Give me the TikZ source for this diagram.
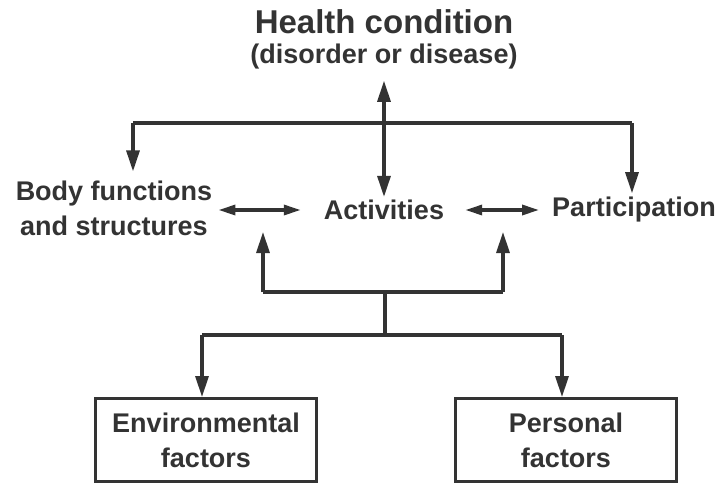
\documentclass[tikz,border=0pt]{standalone}
\usepackage{fontspec}
\setmainfont{Liberation Sans}
\usetikzlibrary{arrows.meta}
\definecolor{ink}{gray}{0.2}
\begin{document}
\begin{tikzpicture}[x=1pt,y=-1pt,
  every node/.style={text=ink,inner sep=3pt,font=\bfseries\fontsize{27}{35}\selectfont},
  headfont/.style={font=\bfseries\fontsize{33}{36}\selectfont},
  conn/.style={draw=ink,line width=3.2pt},
  tip/.style={-{Triangle[length=21pt,width=13pt]}},
  dbl/.style={{Triangle[length=21pt,width=13pt]}-{Triangle[length=21pt,width=13pt]}},
  sdbl/.style={{Triangle[length=17pt,width=10pt]}-{Triangle[length=17pt,width=10pt]}},
  box/.style={draw=ink,line width=3pt,align=center,minimum width=221pt,minimum height=83pt}
]
\useasboundingbox (0,0) rectangle (721,483);

% title
\node[headfont] (hc) at (384,22) {Health condition};
\node (sub) at (384,57) {(disorder or disease)};

% middle row
\node (act) at (384,210) {Activities};
\node[align=center] (body) at (114,208) {Body functions\\and structures};
\node (part) at (634,210) {Participation};

% contextual factors
\node[box] (env) at (206,440) {Environmental\\factors};
\node[box] (pers) at (566,440) {Personal\\factors};

% junction points
\coordinate (tl) at (133,123);
\coordinate (tr) at (632,123);
\coordinate (ul) at (263,292);
\coordinate (ur) at (503,292);
\coordinate (um) at (385,292);
\coordinate (bm) at (385,335);
\coordinate (bl) at (202,335);
\coordinate (br) at (562,335);
\coordinate (ual) at (263,232);
\coordinate (uar) at (503,232);

% health condition links
\draw[conn] (tl) -- (tr);
\draw[conn,tip] (tl) -- ([yshift=6pt]tl |- body.north);
\draw[conn,tip] (tr) -- ([yshift=1pt]tr |- part.north);
\draw[conn,dbl,shorten <=8pt] (sub.south) -- (act.north);

% links within the middle row
\draw[conn,sdbl,shorten <=3pt,shorten >=20pt] (body.east |- act) -- (act.west);
\draw[conn,sdbl,shorten <=18pt,shorten >=10pt] (act.east) -- (part.west);

% links from contextual factors
\draw[conn] (ul) -- (ur);
\draw[conn,tip] (ul) -- (ual);
\draw[conn,tip] (ur) -- (uar);
\draw[conn] (um) -- (bm);
\draw[conn] (bl) -- (br);
\draw[conn,tip] (bl) -- (env.north -| bl);
\draw[conn,tip] (br) -- (pers.north -| br);
\end{tikzpicture}
\end{document}
